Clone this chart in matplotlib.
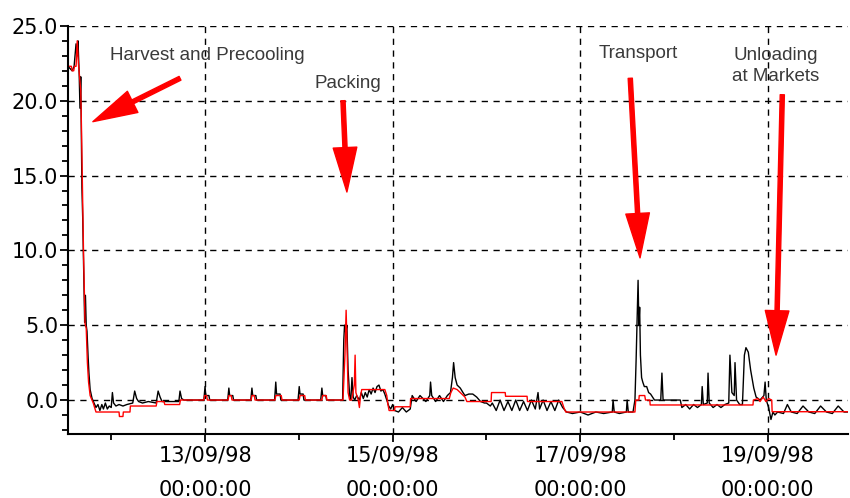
import numpy as np
import matplotlib
matplotlib.use("Agg")
import matplotlib.pyplot as plt
import matplotlib.dates as mdates
from matplotlib.ticker import MultipleLocator, FormatStrFormatter
from datetime import datetime, timedelta

# temps en heures depuis le 11/09/98 00:00
base = datetime(1998, 9, 11)

# sonde noire (température produit)
black_hours = [
    12.94, 14.0, 14.5, 15.0, 15.3, 15.5, 15.8, 16.0, 16.2, 16.5,
    16.7, 17.0, 17.2, 17.4, 17.6, 17.8, 18.1, 18.3, 18.6, 19.1,
    19.6, 20.1, 20.6, 21.1, 21.6, 22.0, 22.5, 23.0, 23.5, 24.0,
    24.3, 24.6, 25.2, 26.0, 27.0, 28.0, 29.5, 30.0, 30.5, 31.0,
    32.0, 33.5, 35.5, 36.0, 36.5, 37.0, 40.0, 41.3, 41.6, 42.0,
    42.6, 47.7, 48.0, 48.2, 49.0, 49.2, 53.8, 54.1, 54.3, 55.1,
    55.3, 59.7, 60.0, 60.2, 61.0, 61.2, 65.8, 66.1, 66.3, 67.2,
    67.4, 71.8, 72.1, 72.3, 73.1, 73.3, 77.6, 77.9, 78.1, 78.9,
    79.1, 83.2, 83.5, 83.7, 84.0, 84.3, 84.6, 85.0, 85.3, 85.6,
    85.9, 86.3, 86.8, 87.5, 88.0, 88.5, 89.0, 89.5, 90.0, 90.5,
    91.0, 91.5, 92.0, 92.5, 93.0, 93.5, 94.0, 94.5, 95.0, 95.5,
    96.0, 96.5, 97.5, 98.5, 99.5, 100.5, 101.0, 102.0, 103.0, 104.5,
    105.5, 105.7, 106.0, 107.0, 108.0, 109.0, 110.0, 110.8, 111.3, 111.6,
    112.0, 112.5, 113.3, 114.0, 114.5, 115.5, 116.5, 117.5, 118.5, 119.5,
    120.0, 120.5, 121.0, 121.5, 122.5, 123.5, 124.5, 125.5, 126.5, 127.5,
    128.5, 129.5, 130.5, 131.5, 132.5, 133.2, 133.6, 134.5, 135.5, 136.5,
    137.5, 138.5, 139.5, 140.5, 142.0, 144.0, 146.0, 148.0, 150.0, 152.2,
    152.4, 152.7, 154.0, 155.8, 156.0, 156.3, 157.5, 158.0, 158.3, 158.6,
    158.8, 159.0, 159.2, 159.4, 159.7, 160.0, 160.4, 161.0, 161.5, 162.0,
    163.0, 164.6, 164.9, 165.2, 169.6, 170.0, 171.0, 172.0, 173.0, 174.0,
    175.0, 175.2, 175.5, 176.5, 176.7, 177.0, 178.0, 179.0, 180.0, 181.0,
    182.0, 182.3, 182.8, 183.4, 183.6, 184.0, 184.8, 185.5, 186.0, 186.4,
    187.0, 187.6, 188.4, 189.0, 190.0, 191.0, 191.3, 191.6, 192.2, 192.8,
    193.3, 193.8, 194.5, 196.0, 197.0, 198.0, 199.5, 201.0, 202.5, 204.0,
    205.5, 207.0, 208.5, 210.0, 211.5, 212.5]
black_temps = [
    22.3, 22.0, 22.3, 23.8, 23.0, 24.0, 21.8, 19.5, 21.6, 14.2,
    12.2, 8.0, 5.2, 7.0, 5.0, 4.6, 2.8, 1.8, 0.7, 0.1,
    -0.2, -0.5, -0.3, -0.7, -0.3, -0.6, -0.2, -0.6, -0.4, -0.5,
    0.5, -0.2, -0.4, -0.3, -0.4, -0.3, -0.2, 0.6, 0.1, -0.1,
    -0.2, -0.1, -0.2, 0.6, 0.2, -0.1, -0.1, -0.1, 0.6, 0.1,
    0.0, 0.0, 0.9, 0.3, 0.3, 0.0, 0.0, 0.8, 0.3, 0.3,
    0.0, 0.0, 0.8, 0.3, 0.3, 0.0, 0.0, 1.2, 0.4, 0.4,
    0.0, 0.0, 0.9, 0.4, 0.4, 0.0, 0.0, 0.8, 0.3, 0.3,
    0.0, 0.0, 4.0, 5.0, 4.5, 5.0, 2.0, 0.3, 0.0, 1.5,
    0.2, 0.0, 0.3, 0.0, 0.5, 0.1, 0.5, 0.2, 0.7, 0.4,
    0.8, 0.5, 0.9, 1.0, 0.6, 0.7, 0.4, 0.0, -0.4, -0.6,
    -0.3, -0.7, -0.8, -0.5, -0.8, -0.6, 0.3, -0.1, 0.3, -0.1,
    0.3, 1.2, 0.3, -0.1, 0.3, -0.1, 0.3, 0.5, 1.5, 2.5,
    1.5, 1.0, 0.8, 0.5, 0.3, 0.4, 0.4, 0.2, -0.1, -0.2,
    -0.2, -0.3, -0.4, -0.2, -0.7, 0.0, -0.7, -0.1, -0.7, 0.0,
    -0.7, -0.1, -0.7, 0.0, -0.6, 0.5, -0.6, 0.0, -0.7, -0.1,
    -0.7, 0.0, -0.5, -0.8, -0.9, -0.8, -1.0, -0.8, -0.9, -0.8,
    0.0, -0.8, -0.9, -0.8, 0.0, -0.8, -0.8, 0.0, 2.7, 6.0,
    8.0, 5.0, 6.2, 3.0, 1.5, 1.2, 0.9, 0.9, 0.5, 0.4,
    0.0, 0.0, 1.8, 0.0, 0.0, -0.5, -0.3, -0.6, -0.3, -0.5,
    -0.3, 0.9, -0.3, -0.2, 1.8, -0.2, -0.5, -0.3, -0.5, -0.3,
    -0.2, 3.0, 0.5, 0.3, 2.5, 0.0, -0.3, -0.3, 3.0, 3.5,
    3.2, 2.0, 0.8, 0.2, 0.0, 0.3, 1.2, 0.0, -0.5, -1.3,
    -0.8, -1.0, -0.8, -0.9, -0.3, -0.8, -0.9, -0.4, -0.8, -0.9,
    -0.4, -0.8, -0.9, -0.4, -0.8, -0.8]

# sonde rouge (température air)
red_hours = [
    12.94, 13.8, 14.0, 14.4, 14.6, 15.0, 15.3, 15.6, 16.2, 16.4,
    16.9, 17.3, 17.6, 17.9, 18.2, 18.6, 19.4, 20.1, 26.0, 26.1,
    27.0, 27.1, 28.8, 28.9, 35.5, 35.7, 37.5, 37.7, 41.5, 41.7,
    47.7, 47.9, 48.4, 48.6, 53.9, 54.1, 54.7, 54.9, 59.8, 60.0,
    60.6, 60.8, 65.9, 66.1, 67.5, 67.7, 72.1, 72.3, 73.5, 73.7,
    77.9, 78.1, 79.0, 79.2, 83.3, 83.8, 84.1, 84.3, 84.6, 85.0,
    85.5, 86.2, 86.4, 86.6, 87.2, 87.5, 87.8, 88.1, 94.0, 94.5,
    94.8, 95.1, 96.5, 96.6, 100.5, 100.6, 110.5, 110.9, 111.5, 112.5,
    113.3, 114.5, 115.0, 121.2, 121.3, 124.8, 124.9, 130.4, 130.5, 139.3,
    139.8, 140.3, 158.0, 158.2, 159.0, 159.1, 160.5, 160.7, 161.8, 161.9,
    188.2, 188.3, 189.5, 190.0, 190.8, 191.5, 192.2, 193.0, 193.1, 212.5]
red_temps = [
    22.3, 22.3, 22.0, 22.0, 22.3, 22.3, 24.0, 22.5, 20.7, 18.0,
    10.0, 5.1, 4.8, 2.5, 1.2, 0.3, -0.2, -0.8, -0.8, -1.1,
    -1.1, -0.8, -0.8, -0.4, -0.4, -0.1, -0.1, -0.3, -0.3, 0.0,
    0.0, 0.3, 0.3, 0.0, 0.0, 0.3, 0.3, 0.0, 0.0, 0.3,
    0.3, 0.0, 0.0, 0.3, 0.3, 0.0, 0.0, 0.3, 0.3, 0.0,
    0.0, 0.3, 0.3, 0.0, 0.0, 3.0, 6.0, 4.0, 0.5, 0.0,
    0.0, 1.0, 3.0, 0.5, 0.0, -0.5, 0.3, 0.7, 0.7, 0.3,
    -0.3, -0.7, -0.7, -0.45, -0.45, 0.1, 0.1, 0.5, 0.8, 0.7,
    0.5, 0.2, -0.1, -0.1, 0.5, 0.5, 0.25, 0.25, -0.1, -0.1,
    -0.5, -0.8, -0.8, 0.0, 0.0, 0.3, 0.3, 0.0, 0.0, -0.33,
    -0.33, 0.0, 0.1, -0.1, 0.2, -0.1, 0.1, 0.0, -0.78, -0.78]

# annotations : texte, position du texte, queue et pointe de la flèche
labels = ["Harvest and Precooling", "Packing", "Transport", "Unloading\nat Markets"]
label_pos = [(23.7, 23.05), (84.6, 21.15), (158.8, 23.15), (193.9, 22.3)]
label_ha = ["left", "center", "center", "center"]
arrow_tail = [(41.6, 21.5), (83.3, 20.0), (156.8, 21.5), (195.7, 20.4)]
arrow_tip = [(19.3, 18.6), (84.3, 13.9), (159.3, 9.5), (194.1, 3.0)]


def to_dates(hours):
    return [base + timedelta(hours=h) for h in hours]


fig = plt.figure(figsize=(8.5, 4.98), dpi=100)
ax = fig.add_axes([0.08, 0.1285, 0.9176, 0.8195])

ax.plot(to_dates(black_hours), black_temps, color="black", lw=1.0)
ax.plot(to_dates(red_hours), red_temps, color="red", lw=1.0)

for txt, pos, ha in zip(labels, label_pos, label_ha):
    ax.text(base + timedelta(hours=pos[0]), pos[1], txt, ha=ha, va="center",
            fontsize=13.5, color="#3a3a3a", family="Liberation Sans",
            linespacing=1.3)

for tail, tip in zip(arrow_tail, arrow_tip):
    ax.annotate("", xy=(base + timedelta(hours=tip[0]), tip[1]),
                xytext=(base + timedelta(hours=tail[0]), tail[1]),
                arrowprops=dict(facecolor="red", edgecolor="red", width=3,
                                headwidth=17, headlength=32, shrink=0))

ax.set_xlim(base + timedelta(hours=12.94), base + timedelta(hours=212.5))
ax.set_ylim(-2.27, 25.0)

ax.xaxis.set_major_locator(mdates.DayLocator(bymonthday=[13, 15, 17, 19]))
ax.xaxis.set_minor_locator(mdates.DayLocator())
ax.xaxis.set_major_formatter(mdates.DateFormatter("%d/%m/%y\n%H:%M:%S"))
ax.yaxis.set_major_locator(MultipleLocator(5))
ax.yaxis.set_minor_locator(MultipleLocator(1))
ax.yaxis.set_major_formatter(FormatStrFormatter("%.1f"))

ax.grid(True, which="major", color="black", linestyle=(0, (4.5, 4)), lw=1.0)
for s in ["top", "right"]:
    ax.spines[s].set_visible(False)
for s in ["left", "bottom"]:
    ax.spines[s].set_linewidth(1.5)

ax.tick_params(which="major", length=6, width=1.3, labelsize=15, pad=2)
ax.tick_params(which="minor", length=4, width=1.3)
ax.tick_params(axis="y", pad=1)

fig.canvas.draw()
for lbl in ax.get_xticklabels():
    lbl.set_linespacing(1.9)

fig.savefig("out.png", dpi=100)
